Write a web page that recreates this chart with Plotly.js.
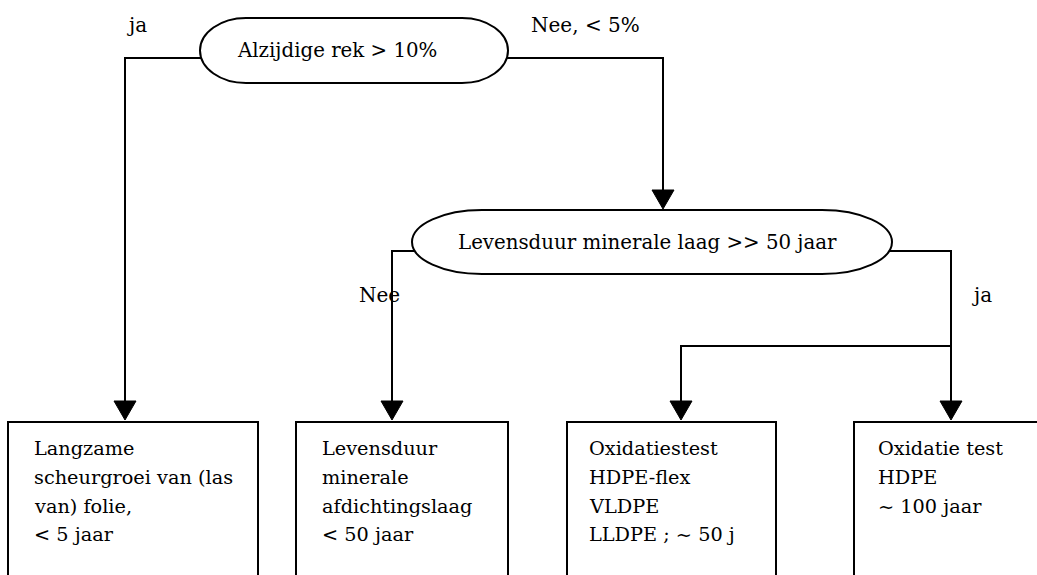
<!DOCTYPE html>
<html>
<head>
<meta charset="utf-8">
<script src="https://cdn.plot.ly/plotly-3.0.1.min.js"></script>
<style>html,body{margin:0;padding:0;background:#fff;}#chart{width:1037px;height:575px;}</style>
</head>
<body>
<div id="chart"></div>
<script>
// ---- content ----
var decisionLabels = ["Alzijdige rek > 10%", "Levensduur minerale laag >> 50 jaar"];
var branchLabels = ["ja", "Nee, < 5%", "Nee", "ja"];
var outcomeBox1 = ["Langzame", "scheurgroei van (las", "van) folie,", "< 5 jaar"];
var outcomeBox2 = ["Levensduur", "minerale", "afdichtingslaag", "< 50 jaar"];
var outcomeBox3 = ["Oxidatiestest", "HDPE-flex", "VLDPE", "LLDPE ; ~ 50 j"];
var outcomeBox4 = ["Oxidatie test", "HDPE", "~ 100 jaar"];
var outcomes = [outcomeBox1, outcomeBox2, outcomeBox3, outcomeBox4];

// ---- layout geometry (diagram coordinates, y downward) ----
var W = 1037, H = 575;
var stadiums = [
  {x0: 200, x1: 508, y0: 18, y1: 83, rx: 46, tx: 235, base: 57},
  {x0: 412, x1: 892, y0: 210, y1: 274, rx: 70, tx: 456, base: 249}
];
var boxes = [
  {x0: 8, x1: 258, tx: 32},
  {x0: 296, x1: 508, tx: 320},
  {x0: 567, x1: 776, tx: 587},
  {x0: 854, x1: 1045, tx: 876}
];
var boxTop = 422, firstBase = 455, lineGap = 28.7;
var branchPos = [{x: 125, base: 32}, {x: 529, base: 32}, {x: 357, base: 302}, {x: 970, base: 302}];
var arrowTip = 420, arrowW = 22, arrowH = 19;
var LW = 2;
var FONT = "'DejaVu Serif', 'Liberation Serif', serif";
var SIZE_NODE = 19.8, SIZE_BOX = 19.3, SIZE_BRANCH = 20;

var shapes = [];
var annotations = [];
var K = 0.5523;

function stadiumPath(s) {
  var cy = (s.y0 + s.y1) / 2, ry = (s.y1 - s.y0) / 2;
  var lx = s.x0 + s.rx, rxx = s.x1 - s.rx;
  return "M" + lx + "," + s.y0 +
    " L" + rxx + "," + s.y0 +
    " C" + (rxx + K * s.rx) + "," + s.y0 + " " + s.x1 + "," + (cy - K * ry) + " " + s.x1 + "," + cy +
    " C" + s.x1 + "," + (cy + K * ry) + " " + (rxx + K * s.rx) + "," + s.y1 + " " + rxx + "," + s.y1 +
    " L" + lx + "," + s.y1 +
    " C" + (lx - K * s.rx) + "," + s.y1 + " " + s.x0 + "," + (cy + K * ry) + " " + s.x0 + "," + cy +
    " C" + s.x0 + "," + (cy - K * ry) + " " + (lx - K * s.rx) + "," + s.y0 + " " + lx + "," + s.y0 + " Z";
}
function edgeX(s, y, side) {
  var cy = (s.y0 + s.y1) / 2, ry = (s.y1 - s.y0) / 2;
  var d = s.rx * Math.sqrt(Math.max(0, 1 - Math.pow((y - cy) / ry, 2)));
  return side < 0 ? s.x0 + s.rx - d : s.x1 - s.rx + d;
}
function polyline(pts) {
  var p = "M" + pts[0][0] + "," + pts[0][1];
  for (var i = 1; i < pts.length; i++) p += " L" + pts[i][0] + "," + pts[i][1];
  shapes.push({type: "path", xref: "x", yref: "y", path: p, line: {color: "#000", width: LW}});
}
function arrowHead(x, tip) {
  shapes.push({type: "path", xref: "x", yref: "y",
    path: "M" + (x - arrowW / 2) + "," + (tip - arrowH) + " L" + (x + arrowW / 2) + "," + (tip - arrowH) + " L" + x + "," + tip + " Z",
    fillcolor: "#000", line: {color: "#000", width: 1}});
}
function textLine(txt, x, base, size) {
  annotations.push({x: x, y: base - 0.33 * size, xref: "x", yref: "y", text: txt, showarrow: false,
    xanchor: "left", yanchor: "middle", font: {family: FONT, size: size, color: "#000"}});
}

stadiums.forEach(function (s, i) {
  shapes.push({type: "path", xref: "x", yref: "y", path: stadiumPath(s), fillcolor: "rgba(0,0,0,0)", line: {color: "#000", width: LW}});
  textLine(decisionLabels[i], s.tx, s.base, SIZE_NODE);
});

var yc1 = 58, yc2 = 251, yBranch = 346, xL = 125, xR1 = 663, xL2 = 392, xR2 = 951, xMid = 681;
polyline([[edgeX(stadiums[0], yc1, -1), yc1], [xL, yc1], [xL, arrowTip - arrowH + 2]]);
polyline([[edgeX(stadiums[0], yc1, 1), yc1], [xR1, yc1], [xR1, stadiums[1].y0 - arrowH + 1]]);
polyline([[edgeX(stadiums[1], yc2, -1), yc2], [xL2, yc2], [xL2, arrowTip - arrowH + 2]]);
polyline([[edgeX(stadiums[1], yc2, 1), yc2], [xR2, yc2], [xR2, arrowTip - arrowH + 2]]);
polyline([[xR2, yBranch], [xMid, yBranch], [xMid, arrowTip - arrowH + 2]]);
arrowHead(xR1, stadiums[1].y0 - 1);
[xL, xL2, xMid, xR2].forEach(function (x) { arrowHead(x, arrowTip); });

boxes.forEach(function (b, i) {
  polyline([[b.x0, H + 5], [b.x0, boxTop], [b.x1, boxTop], [b.x1, H + 5]]);
  outcomes[i].forEach(function (line, j) {
    textLine(line, b.tx, firstBase + j * lineGap, SIZE_BOX);
  });
});

branchLabels.forEach(function (t, i) {
  textLine(t, branchPos[i].x, branchPos[i].base, SIZE_BRANCH);
});

var layout = {
  width: W, height: H,
  font: {family: FONT, size: 20, color: "#000"},
  margin: {l: 0, r: 0, t: 0, b: 0, pad: 0},
  paper_bgcolor: "#fff", plot_bgcolor: "#fff",
  showlegend: false,
  xaxis: {range: [0, W], visible: false, fixedrange: true},
  yaxis: {range: [H, 0], visible: false, fixedrange: true},
  shapes: shapes,
  annotations: annotations
};
Plotly.newPlot("chart", [{x: [], y: [], type: "scatter", mode: "markers", hoverinfo: "skip"}], layout, {displayModeBar: false, staticPlot: true});
</script>
</body>
</html>
